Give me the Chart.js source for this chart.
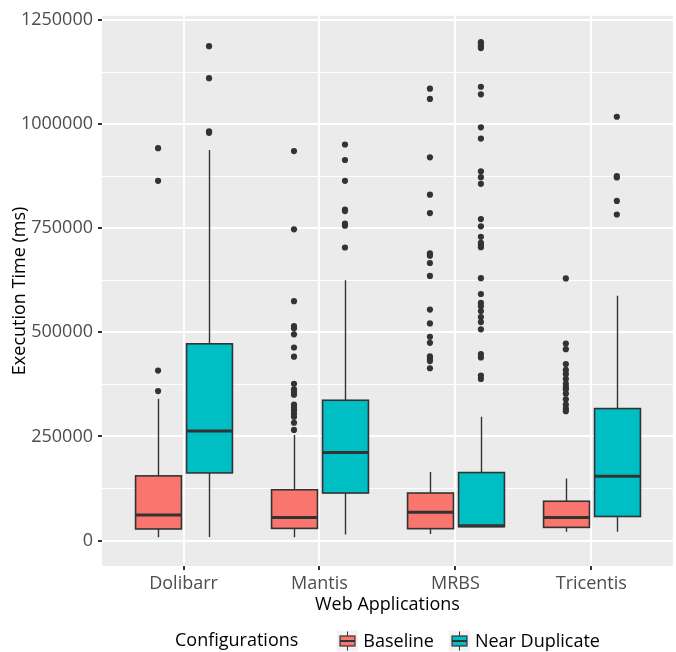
<!DOCTYPE html>
<html>
<head>
<meta charset="utf-8">
<script src="https://cdn.jsdelivr.net/npm/chart.js@4/dist/chart.umd.min.js"></script>
<style>
  html, body { margin: 0; padding: 0; background: #ffffff; }
  #wrap { width: 676px; height: 652px; position: relative; }
</style>
</head>
<body>
<div id="wrap"><canvas id="c" width="676" height="652"></canvas></div>
<script>
// Web applications on the x axis, two test configurations per application
const apps = ['Dolibarr', 'Mantis', 'MRBS', 'Tricentis'];
const configs = ['Baseline', 'Near Duplicate'];
const configColors = ['#F8766D', '#00BFC4'];

// Box summaries per application: [lower whisker, Q1, median, Q3, upper whisker] in ms
const baselineStats = [
  [7800, 27800, 61100, 155300, 340700],
  [7800, 29200, 55400, 122000, 253700],
  [15900, 28500, 68200, 114100, 164800],
  [21400, 31600, 55400, 94400, 149100]
];
const nearDupStats = [
  [8800, 162400, 263200, 472400, 937500],
  [14300, 114100, 211600, 336900, 625300],
  [32500, 33300, 35700, 163300, 297200],
  [21400, 57800, 154500, 316900, 588000]
];

// Outlying runs (ms)
const baselineOutliers = [
  [942200, 863800, 408200, 359000],
  [935100, 747200, 574700, 515200, 509500, 495200, 463600, 441500, 376400, 363000,
   356600, 350200, 326400, 318600, 313100, 305000, 297200, 282900, 265600],
  [1084900, 1060400, 920100, 830500, 786200, 689500, 684000, 666400, 635500, 554700,
   521400, 489100, 474800, 442200, 435800, 431000, 413700],
  [629300, 473100, 459600, 423900, 409600, 400100, 388200, 376400, 368500, 363000,
   352600, 339300, 326400, 316900, 310700]
];
const nearDupOutliers = [
  [1187100, 1110300, 982500, 979000],
  [951000, 913700, 863800, 794800, 791000, 760800, 756000, 703700],
  [1196600, 1192800, 1187100, 1182400, 1089600, 1071500, 992100, 965200, 886800, 872500,
   856600, 772000, 754400, 729200, 714900, 710100, 704400, 630000, 592000, 570600,
   562800, 550900, 536600, 524700, 507100, 447700, 439800, 396300, 388200],
  [1017600, 875000, 872000, 815500, 782900]
];

// Labelled y ticks
const yTicks = [0, 250000, 500000, 750000, 1000000, 1250000];

const allStats = [baselineStats, nearDupStats];
const allOutliers = [baselineOutliers, nearDupOutliers];
const DODGE = 0.1875;   // half distance between the two boxes of a group (x units)
const BOX_W = 0.3375;   // box width (x units)
const groupOffset = k => (k === 0 ? -DODGE : DODGE);

// minor grid values halfway between labelled ticks
const yMinor = yTicks.slice(1).map((v, i) => (v + yTicks[i]) / 2);

const FONT = "'Open Sans', 'DejaVu Sans', sans-serif";
Chart.defaults.font.family = FONT;
Chart.defaults.font.size = 18;

const panelBackground = {
  id: 'panelBackground',
  beforeDraw(chart) {
    const { ctx, chartArea: a } = chart;
    ctx.save();
    ctx.fillStyle = '#EBEBEB';
    ctx.fillRect(a.left, a.top, a.right - a.left, a.bottom - a.top);
    ctx.restore();
  }
};

const boxes = {
  id: 'boxes',
  beforeDatasetsDraw(chart) {
    const { ctx, chartArea: a } = chart;
    const xs = chart.scales.x, ys = chart.scales.y;
    const half = (xs.getPixelForValue(BOX_W) - xs.getPixelForValue(0)) / 2;
    ctx.save();
    ctx.beginPath();
    ctx.rect(a.left, a.top, a.right - a.left, a.bottom - a.top);
    ctx.clip();
    allStats.forEach((stats, k) => {
      stats.forEach((s, i) => {
        const [lo, q1, med, q3, hi] = s;
        const cx = Math.round(xs.getPixelForValue(i + 1 + groupOffset(k))) + 0.5;
        // whiskers
        ctx.strokeStyle = '#333333';
        ctx.lineWidth = 1.4;
        ctx.beginPath();
        ctx.moveTo(cx, ys.getPixelForValue(lo));
        ctx.lineTo(cx, ys.getPixelForValue(q1));
        ctx.moveTo(cx, ys.getPixelForValue(q3));
        ctx.lineTo(cx, ys.getPixelForValue(hi));
        ctx.stroke();
        // box
        const top = ys.getPixelForValue(q3), bot = ys.getPixelForValue(q1);
        ctx.fillStyle = configColors[k];
        ctx.fillRect(cx - half, top, half * 2, bot - top);
        ctx.lineWidth = 1.6;
        ctx.strokeRect(cx - half, top, half * 2, bot - top);
        // median
        const my = ys.getPixelForValue(med);
        ctx.lineWidth = 3;
        ctx.beginPath();
        ctx.moveTo(cx - half, my);
        ctx.lineTo(cx + half, my);
        ctx.stroke();
      });
    });
    ctx.restore();
  }
};

const bottomLegend = {
  id: 'bottomLegend',
  afterDraw(chart) {
    const { ctx, chartArea: a } = chart;
    const cy = 641;
    const key = 21, gapTitle = 39, gapText = 5, gapItem = 15;
    ctx.save();
    ctx.font = '18px ' + FONT;
    ctx.textBaseline = 'middle';
    ctx.fillStyle = '#000000';
    const titleW = ctx.measureText('Configurations').width;
    const textW = configs.map(c => ctx.measureText(c).width);
    let total = titleW + gapTitle;
    configs.forEach((c, k) => { total += key + gapText + textW[k] + (k < configs.length - 1 ? gapItem : 0); });
    let x = (a.left + a.right) / 2 - total / 2;
    ctx.fillText('Configurations', x, cy);
    x += titleW + gapTitle;
    configs.forEach((c, k) => {
      const kx = Math.round(x), ky = cy - key / 2;
      ctx.fillStyle = '#F2F2F2';
      ctx.fillRect(kx, ky, key, key);
      const mx = kx + key / 2;
      ctx.strokeStyle = '#333333';
      ctx.lineWidth = 1;
      ctx.beginPath();
      ctx.moveTo(mx, ky + 1);
      ctx.lineTo(mx, ky + key - 1);
      ctx.stroke();
      ctx.fillStyle = configColors[k];
      ctx.fillRect(kx + 3, cy - 5, key - 6, 10);
      ctx.lineWidth = 1.2;
      ctx.strokeRect(kx + 3, cy - 5, key - 6, 10);
      ctx.lineWidth = 2;
      ctx.beginPath();
      ctx.moveTo(kx + 3, cy);
      ctx.lineTo(kx + key - 3, cy);
      ctx.stroke();
      x += key + gapText;
      ctx.fillStyle = '#000000';
      ctx.fillText(c, x, cy + 1);
      x += textW[k] + gapItem;
    });
    ctx.restore();
  }
};

const datasets = configs.map((c, k) => ({
  type: 'scatter',
  label: c,
  data: allOutliers[k].flatMap((vals, i) => vals.map(v => ({ x: i + 1 + groupOffset(k), y: v }))),
  pointRadius: 3.1,
  pointHoverRadius: 3.1,
  pointBackgroundColor: '#333333',
  pointBorderWidth: 0,
  showLine: false
}));

new Chart(document.getElementById('c'), {
  type: 'scatter',
  data: { datasets },
  options: {
    responsive: false,
    animation: false,
    events: [],
    layout: { padding: { top: 10, right: 3, left: 0, bottom: 36 } },
    plugins: { legend: { display: false }, tooltip: { enabled: false } },
    scales: {
      x: {
        type: 'linear',
        min: 0.4,
        max: 4.6,
        afterBuildTicks: axis => { axis.ticks = apps.map((_, i) => ({ value: i + 1 })); },
        afterFit: s => { s.height = 50; },
        ticks: {
          autoSkip: false,
          maxRotation: 0,
          color: '#4D4D4D',
          padding: 3,
          font: { size: 18 },
          callback: v => apps[Math.round(v) - 1]
        },
        grid: { color: '#FFFFFF', lineWidth: 2, tickColor: '#333333', tickLength: 4 },
        border: { display: false },
        title: { display: true, text: 'Web Applications', color: '#000000', font: { size: 18 }, padding: { top: 0, bottom: 0 } }
      },
      y: {
        type: 'linear',
        min: -61100,
        max: 1260000,
        afterBuildTicks: axis => {
          axis.ticks = yTicks.concat(yMinor).sort((p, q) => p - q).map(v => ({ value: v }));
        },
        afterFit: s => { s.width = 102; },
        ticks: {
          autoSkip: false,
          color: '#4D4D4D',
          padding: 5,
          font: { size: 18 },
          callback: v => (yTicks.includes(v) ? String(v) : '')
        },
        grid: {
          color: '#FFFFFF',
          lineWidth: c => (c.tick && yTicks.includes(c.tick.value) ? 2 : 1),
          tickColor: c => (c.tick && yTicks.includes(c.tick.value) ? '#333333' : 'rgba(0,0,0,0)'),
          tickLength: 4
        },
        border: { display: false },
        title: { display: true, text: 'Execution Time (ms)', color: '#000000', font: { size: 18 }, padding: { top: 9, bottom: 0 } }
      }
    }
  },
  plugins: [panelBackground, boxes, bottomLegend]
});
</script>
</body>
</html>
